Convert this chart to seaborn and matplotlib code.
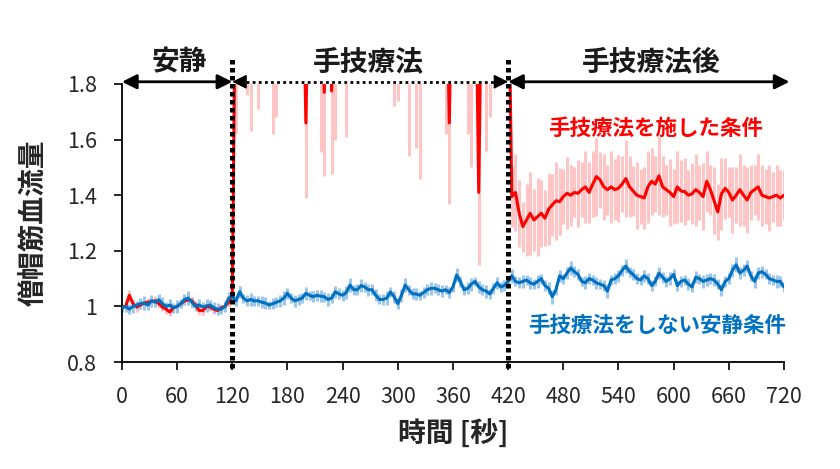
import numpy as np
import pandas as pd
import matplotlib
matplotlib.use("Agg")
import matplotlib.pyplot as plt
import seaborn as sns

# time axis: one sample every 4 s, 0..720 s
time_s = list(range(0, 721, 4))

# blue: no treatment (rest condition), mean ratio
blue_mean = [
    0.995, 1.000, 0.990, 1.000, 1.005, 1.010, 1.012, 1.005, 1.020, 1.015,  # 0-36
    1.024, 1.010, 1.000, 1.005, 0.995, 1.000, 1.010, 1.025, 1.030, 1.015,  # 40-76
    1.000, 1.005, 0.998, 1.002, 1.005, 0.995, 0.990, 0.990, 1.000, 1.030,  # 80-116
    1.035, 1.020, 1.053, 1.030, 1.020, 1.025, 1.020, 1.020, 1.015, 1.012,  # 120-156
    1.005, 1.010, 1.015, 1.020, 1.030, 1.047, 1.030, 1.020, 1.025, 1.030,  # 160-196
    1.047, 1.040, 1.035, 1.040, 1.037, 1.035, 1.025, 1.030, 1.053, 1.045,  # 200-236
    1.040, 1.050, 1.077, 1.060, 1.060, 1.075, 1.070, 1.060, 1.060, 1.040,  # 240-276
    1.025, 1.025, 1.030, 1.052, 1.035, 1.010, 1.040, 1.077, 1.060, 1.045,  # 280-316
    1.045, 1.040, 1.050, 1.060, 1.065, 1.065, 1.060, 1.055, 1.060, 1.050,  # 320-356
    1.070, 1.113, 1.090, 1.060, 1.065, 1.080, 1.090, 1.070, 1.060, 1.055,  # 360-396
    1.045, 1.065, 1.085, 1.070, 1.075, 1.090, 1.110, 1.090, 1.085, 1.090,  # 400-436
    1.095, 1.085, 1.080, 1.090, 1.100, 1.075, 1.065, 1.035, 1.060, 1.110,  # 440-476
    1.100, 1.120, 1.138, 1.125, 1.115, 1.090, 1.085, 1.100, 1.095, 1.085,  # 480-516
    1.080, 1.075, 1.055, 1.095, 1.100, 1.110, 1.130, 1.145, 1.125, 1.115,  # 520-556
    1.100, 1.095, 1.110, 1.100, 1.075, 1.090, 1.120, 1.105, 1.090, 1.100,  # 560-596
    1.115, 1.075, 1.090, 1.095, 1.080, 1.070, 1.105, 1.100, 1.090, 1.095,  # 600-636
    1.100, 1.095, 1.080, 1.060, 1.090, 1.100, 1.130, 1.150, 1.120, 1.130,  # 640-676
    1.145, 1.110, 1.090, 1.120, 1.125, 1.115, 1.100, 1.095, 1.090, 1.090,  # 680-716
    1.070,                                                                 # 720
]
blue_se = [
    0.015, 0.020, 0.018, 0.022, 0.016, 0.020, 0.024, 0.018, 0.021, 0.017,
    0.019, 0.023, 0.016, 0.020, 0.018, 0.022, 0.017, 0.020, 0.024, 0.019,
    0.016, 0.021, 0.018, 0.023, 0.017, 0.020, 0.022, 0.016, 0.019, 0.021,
    0.020, 0.018, 0.022, 0.016, 0.020, 0.024, 0.017, 0.019, 0.021, 0.023,
    0.016, 0.020, 0.018, 0.022, 0.025, 0.019, 0.017, 0.021, 0.020, 0.018,
    0.023, 0.016, 0.020, 0.019, 0.022, 0.018, 0.024, 0.017, 0.021, 0.020,
    0.019, 0.022, 0.025, 0.018, 0.020, 0.023, 0.017, 0.021, 0.019, 0.022,
    0.018, 0.020, 0.024, 0.017, 0.021, 0.019, 0.023, 0.026, 0.018, 0.020,
    0.022, 0.017, 0.021, 0.019, 0.023, 0.018, 0.020, 0.022, 0.017, 0.021,
    0.019, 0.026, 0.020, 0.018, 0.022, 0.024, 0.017, 0.021, 0.019, 0.023,
    0.018, 0.020, 0.022, 0.017, 0.021, 0.019, 0.024, 0.018, 0.020, 0.022,
    0.017, 0.021, 0.019, 0.023, 0.018, 0.020, 0.022, 0.025, 0.019, 0.021,
    0.018, 0.022, 0.026, 0.019, 0.021, 0.017, 0.023, 0.020, 0.018, 0.022,
    0.019, 0.021, 0.024, 0.018, 0.020, 0.022, 0.019, 0.025, 0.018, 0.021,
    0.020, 0.017, 0.022, 0.019, 0.021, 0.018, 0.023, 0.020, 0.019, 0.022,
    0.018, 0.021, 0.020, 0.017, 0.022, 0.019, 0.021, 0.018, 0.023, 0.020,
    0.019, 0.022, 0.018, 0.021, 0.020, 0.019, 0.024, 0.026, 0.020, 0.022,
    0.021, 0.019, 0.023, 0.020, 0.022, 0.018, 0.021, 0.019, 0.022, 0.020,
    0.018,
]

# red: with manual therapy; during therapy the mean runs above the axis
red_mean = [
    0.995, 1.000, 1.040, 1.010, 0.998, 1.005, 1.012, 1.015, 1.018, 1.020,  # 0-36
    1.010, 0.998, 0.990, 0.980, 0.995, 1.000, 1.010, 1.020, 1.024, 1.020,  # 40-76
    1.005, 0.985, 0.985, 1.000, 0.998, 0.990, 0.985, 0.995, 1.000, 1.015,  # 80-116
    1.040, 2.400, 2.400, 2.400, 2.400, 2.400, 2.400, 2.400, 2.400, 2.400,  # 120-156
    2.400, 2.400, 2.400, 2.400, 2.400, 2.400, 2.400, 2.400, 2.400, 2.400,  # 160-196
    1.660, 2.400, 2.400, 2.400, 2.400, 1.770, 2.400, 1.775, 2.400, 2.400,  # 200-236
    2.400, 2.400, 2.400, 2.400, 2.400, 2.400, 2.400, 2.400, 2.400, 2.400,  # 240-276
    2.400, 2.400, 2.400, 2.400, 2.400, 2.400, 2.400, 2.400, 2.400, 2.400,  # 280-316
    2.400, 2.400, 2.400, 2.400, 2.400, 2.400, 2.400, 2.400, 2.400, 1.660,  # 320-356
    2.400, 2.400, 2.400, 2.400, 2.400, 2.400, 2.400, 1.410, 2.400, 2.400,  # 360-396
    2.400, 2.400, 2.400, 2.400, 2.400, 2.300, 1.395, 1.410, 1.335, 1.287,  # 400-436
    1.311, 1.335, 1.311, 1.323, 1.335, 1.317, 1.350, 1.365, 1.380, 1.377,  # 440-476
    1.395, 1.407, 1.400, 1.410, 1.407, 1.420, 1.430, 1.410, 1.440, 1.467,  # 480-516
    1.455, 1.430, 1.420, 1.430, 1.420, 1.425, 1.440, 1.460, 1.430, 1.415,  # 520-556
    1.400, 1.395, 1.390, 1.430, 1.450, 1.440, 1.470, 1.430, 1.420, 1.410,  # 560-596
    1.395, 1.430, 1.415, 1.413, 1.400, 1.405, 1.420, 1.410, 1.395, 1.450,  # 600-636
    1.420, 1.380, 1.340, 1.405, 1.425, 1.410, 1.383, 1.400, 1.420, 1.400,  # 640-676
    1.383, 1.410, 1.420, 1.430, 1.400, 1.395, 1.390, 1.395, 1.400, 1.390,  # 680-716
    1.400,                                                                 # 720
]
red_se = [
    0.012, 0.016, 0.020, 0.014, 0.018, 0.015, 0.013, 0.017, 0.015, 0.019,
    0.014, 0.016, 0.018, 0.013, 0.015, 0.017, 0.014, 0.016, 0.019, 0.015,
    0.013, 0.017, 0.015, 0.014, 0.016, 0.018, 0.013, 0.015, 0.017, 0.016,
    0.020, 0.780, 0.300, 0.300, 0.640, 0.770, 0.300, 0.690, 0.300, 0.300,
    0.300, 0.780, 0.720, 0.300, 0.300, 0.300, 0.300, 0.300, 0.300, 0.300,
    0.270, 0.300, 0.300, 0.300, 0.845, 0.300, 0.320, 0.300, 0.800, 0.300,
    0.300, 0.790, 0.300, 0.300, 0.300, 0.300, 0.300, 0.300, 0.300, 0.300,
    0.300, 0.300, 0.300, 0.300, 0.680, 0.660, 0.300, 0.300, 0.860, 0.300,
    0.830, 0.940, 0.300, 0.300, 0.300, 0.300, 0.300, 0.300, 0.780, 0.290,
    0.300, 0.300, 0.300, 0.300, 0.780, 0.900, 0.300, 0.260, 0.300, 0.840,
    0.720, 0.300, 0.300, 0.300, 0.300, 0.300, 0.110, 0.140, 0.120, 0.090,
    0.130, 0.150, 0.110, 0.140, 0.120, 0.100, 0.130, 0.110, 0.140, 0.120,
    0.100, 0.130, 0.110, 0.090, 0.120, 0.100, 0.130, 0.110, 0.120, 0.140,
    0.100, 0.120, 0.090, 0.130, 0.110, 0.120, 0.100, 0.140, 0.110, 0.090,
    0.120, 0.100, 0.110, 0.130, 0.120, 0.100, 0.140, 0.110, 0.090, 0.120,
    0.100, 0.130, 0.110, 0.120, 0.090, 0.110, 0.130, 0.100, 0.120, 0.110,
    0.090, 0.120, 0.100, 0.130, 0.110, 0.090, 0.120, 0.100, 0.130, 0.110,
    0.120, 0.100, 0.090, 0.120, 0.110, 0.100, 0.120, 0.090, 0.110, 0.100,
    0.090,
]

phase_labels = ["安静", "手技療法", "手技療法後"]
phase_edges = [0, 120, 420, 720]
phase_label_x = [62, 268, 576]
ytick_values = [0.8, 1.0, 1.2, 1.4, 1.6, 1.8]
ytick_labels = ["0.8", "1", "1.2", "1.4", "1.6", "1.8"]
xtick_values = list(range(0, 721, 60))

RED = "#FF0000"
RED_LIGHT = "#FFC4C4"
BLUE = "#0070C0"
BLUE_LIGHT = "#9CC6EA"

sns.set_theme(style="white")
plt.rcParams["font.family"] = ["Noto Sans CJK JP", "DejaVu Sans"]

df = pd.DataFrame({
    "time": time_s,
    "blue": blue_mean, "blue_se": blue_se,
    "red": red_mean, "red_se": red_se,
})

fig = plt.figure(figsize=(8.4, 4.69), dpi=100)
ax = fig.add_axes([0.1452, 0.2281, 0.7881, 0.5928])

# faint SE bars first, then mean lines (blue on top)
ax.vlines(df["time"], df["red"] - df["red_se"], df["red"] + df["red_se"],
          colors=RED_LIGHT, lw=2.2, zorder=1)
ax.vlines(df["time"], df["blue"] - df["blue_se"], df["blue"] + df["blue_se"],
          colors=BLUE_LIGHT, lw=2.2, zorder=2)
sns.lineplot(data=df, x="time", y="red", color=RED, lw=2.2, ax=ax, zorder=3)
sns.lineplot(data=df, x="time", y="blue", color=BLUE, lw=2.2, ax=ax, zorder=4)

ax.set_xlim(0, 720)
ax.set_ylim(0.8, 1.8)
ax.set_xticks(xtick_values)
ax.set_xticklabels([str(v) for v in xtick_values], fontsize=15.5)
ax.set_yticks(ytick_values)
ax.set_yticklabels(ytick_labels, fontsize=15.5)
ax.tick_params(axis="both", direction="out", length=6, width=1.2, color="black",
               bottom=True, left=True)
ax.tick_params(axis="x", pad=11)
ax.tick_params(axis="y", pad=12)
for side in ["top", "right"]:
    ax.spines[side].set_visible(False)
for side in ["left", "bottom"]:
    ax.spines[side].set_color("black")
    ax.spines[side].set_linewidth(1.3)

ax.set_xlabel("時間 [秒]", fontsize=20, fontweight="bold", labelpad=8)
ax.set_ylabel("僧帽筋血流量", fontsize=20, fontweight="bold", labelpad=14)

# phase boundaries
for t in phase_edges[1:3]:
    ax.plot([t, t], [0.78, 1.895], color="black", lw=3.6, ls=(0, (0.9, 0.7)),
            clip_on=False, zorder=6)

# phase arrows and titles
arrow_y = 1.808
for i, label in enumerate(phase_labels):
    x0, x1 = phase_edges[i], phase_edges[i + 1]
    if i == 2:
        x1 = 726
    if i == 1:
        ax.plot([x0 + 8, x1 - 8], [arrow_y, arrow_y], color="black", lw=2,
                ls=(0, (1, 1.2)), clip_on=False)
        for end, start in [(x0, x0 + 13), (x1, x1 - 13)]:
            ax.annotate("", xy=(end, arrow_y), xytext=(start, arrow_y),
                        arrowprops=dict(arrowstyle="-|>", color="black", lw=1,
                                        mutation_scale=22, shrinkA=0, shrinkB=0),
                        annotation_clip=False)
    else:
        ax.annotate("", xy=(x0, arrow_y), xytext=(x1, arrow_y),
                    arrowprops=dict(arrowstyle="<|-|>", color="black", lw=2,
                                    mutation_scale=22, shrinkA=0, shrinkB=0),
                    annotation_clip=False)
    ax.text(phase_label_x[i], 1.877, label, ha="center", va="center",
            fontsize=20, fontweight="bold", color="#1a1a1a")

ax.text(580, 1.642, "手技療法を施した条件", color=RED, fontsize=15.5,
        fontweight="bold", ha="center", va="center")
ax.text(582, 0.933, "手技療法をしない安静条件", color=BLUE, fontsize=15.5,
        fontweight="bold", ha="center", va="center")

fig.savefig("out.png", dpi=100)
